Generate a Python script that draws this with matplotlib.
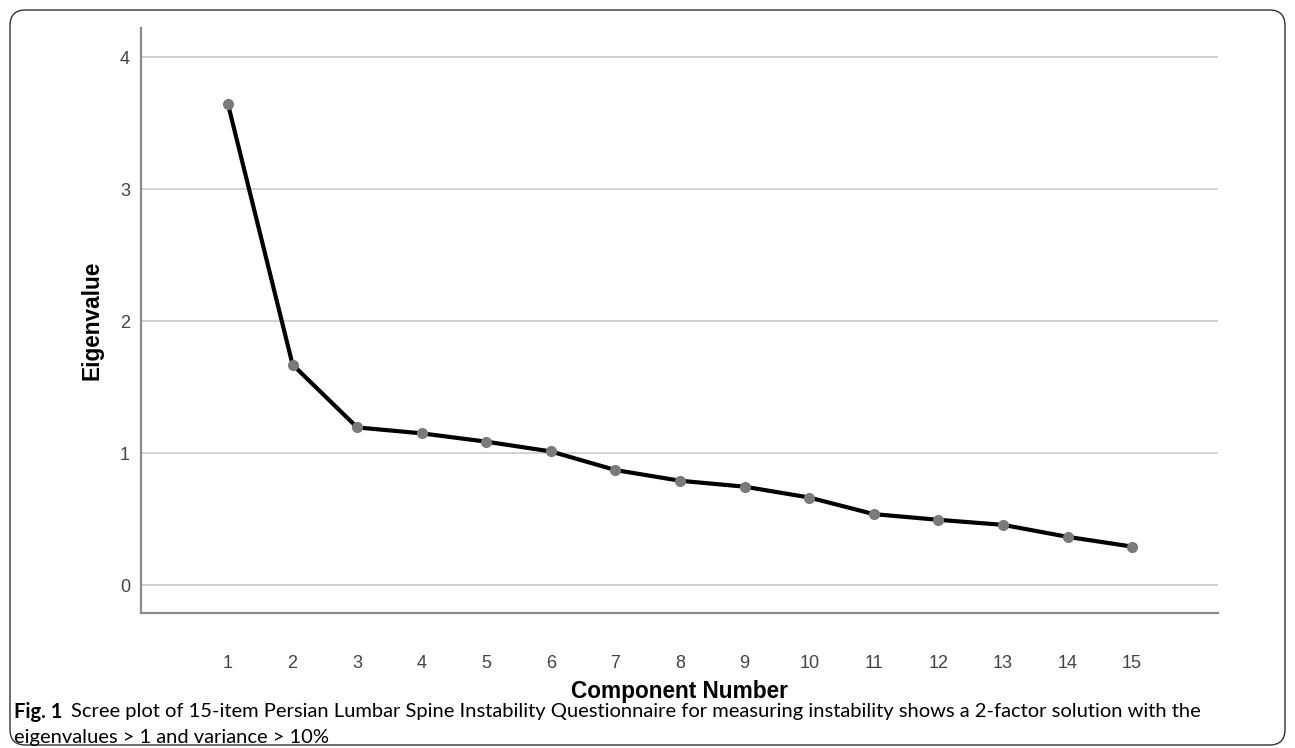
import matplotlib
matplotlib.use("Agg")
import matplotlib.pyplot as plt
from matplotlib.patches import FancyBboxPatch

components = list(range(1, 16))
eigenvalues = [3.643, 1.670, 1.194, 1.149, 1.086, 1.012, 0.871, 0.790,
               0.745, 0.663, 0.537, 0.494, 0.456, 0.365, 0.291]
y_ticks = [0, 1, 2, 3, 4]
x_label = "Component Number"
y_label = "Eigenvalue"
caption_bold = "Fig. 1"
caption_line1 = "Scree plot of 15-item Persian Lumbar Spine Instability Questionnaire for measuring instability shows a 2-factor solution with the"
caption_line2 = "eigenvalues > 1 and variance > 10%"

W, H = 1295, 748
fig = plt.figure(figsize=(W / 100, H / 100), dpi=100)

# rounded outer frame
frame = FancyBboxPatch((10 / W, 3 / H), (1275) / W, (735) / H,
                       boxstyle="round,pad=0,rounding_size=0.012",
                       transform=fig.transFigure, fill=False,
                       edgecolor="#333333", linewidth=1.0, mutation_aspect=W / H)
fig.patches.append(frame)

left, right, top, bottom = 141, 1218, 28, 613
ax = fig.add_axes([left / W, 1 - bottom / H, (right - left) / W, (bottom - top) / H])

ax.plot(components, eigenvalues, color="black", linewidth=3.0, zorder=3,
        solid_capstyle="round")
ax.plot(components, eigenvalues, linestyle="none", marker="o", markersize=7,
        markerfacecolor="#7a7a7a", markeredgecolor="#7a7a7a", zorder=4)

ax.set_xlim(-0.347, 16.33)
ax.set_ylim(-0.212, 4.22)
ax.set_xticks(components)
ax.set_yticks(y_ticks)
ax.yaxis.grid(True, color="#cfcfcf", linewidth=1.3)
ax.set_axisbelow(True)
for s in ["top", "right"]:
    ax.spines[s].set_visible(False)
for s in ["left", "bottom"]:
    ax.spines[s].set_color("#8a8a8a")
    ax.spines[s].set_linewidth(1.6)
ax.tick_params(axis="both", length=0, labelsize=13, colors="#444444",
               labelfontfamily="Liberation Sans")
ax.tick_params(axis="x", pad=30)
ax.tick_params(axis="y", pad=8)

ax.set_xlabel(x_label, fontsize=16.3, fontweight="bold", family="Liberation Sans",
              labelpad=6)
ax.set_ylabel(y_label, fontsize=16.3, fontweight="bold", family="Liberation Sans",
              labelpad=12)

cap_font = "Lato"
cap_size = 14.5
t = fig.text(14 / W, 1 - 712 / H, caption_bold, fontsize=cap_size, fontweight="bold",
             family=cap_font, va="center", ha="left")
fig.canvas.draw()
bb = t.get_window_extent()
fig.text((bb.x1 + 9) / W, 1 - 712 / H, caption_line1, fontsize=cap_size,
         family=cap_font, va="center", ha="left")
fig.text(14 / W, 1 - 738 / H, caption_line2, fontsize=cap_size,
         family=cap_font, va="center", ha="left")

fig.savefig("out.png", dpi=100)
